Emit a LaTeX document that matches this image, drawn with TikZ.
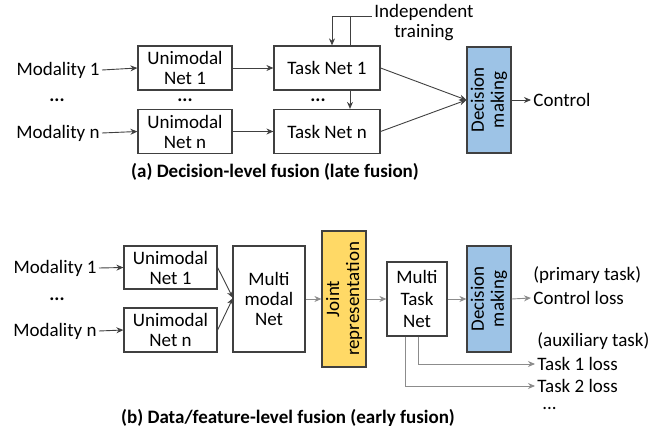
\documentclass[tikz,border=0pt]{standalone}
\usepackage{fontspec}
\setmainfont{Carlito}
\usetikzlibrary{arrows.meta}
\definecolor{boxc}{HTML}{404040}
\definecolor{arrc}{HTML}{404040}
\definecolor{garr}{HTML}{8C8C8C}
\definecolor{dmblue}{HTML}{9DC3E6}
\definecolor{jryel}{HTML}{FFD966}
\newcommand\myfs{\fontsize{9.5}{10}\selectfont}
\begin{document}
\begin{tikzpicture}[x=0.5pt,y=-0.5pt,
  box/.style={draw=boxc,line width=0.6pt,fill=white,align=center,inner sep=0pt,font=\myfs},
  lbl/.style={inner sep=1pt,font=\myfs,align=left},
  dotsn/.style={inner sep=0pt,font=\myfs\bfseries,anchor=base},
  arr/.style={draw=arrc,line width=0.45pt,-{Stealth[length=3.5pt,width=3pt]}},
  garrow/.style={draw=garr,line width=0.45pt,-{Stealth[length=3.5pt,width=3pt]}},
  captxt/.style={inner sep=0pt,font=\fontsize{9.5}{10}\selectfont\bfseries}]
\useasboundingbox (0,0) rectangle (670,433);
% ---------- (a) ----------
\node[lbl,anchor=east] (am1) at (102,70) {Modality 1};
\node[lbl,anchor=east] (amn) at (102,133) {Modality n};
\node[dotsn] (ad1) at (57,102) {...};
\node[box,minimum width=47pt,minimum height=22pt] (au1) at (185,68) {Unimodal\\Net 1};
\node[box,minimum width=47pt,minimum height=22pt] (aun) at (185,131.5) {Unimodal\\Net n};
\node[dotsn] (ad2) at (185,102) {...};
\node[box,minimum width=53pt,minimum height=22pt] (at1) at (327,68) {Task Net 1};
\node[box,minimum width=53pt,minimum height=22pt] (atn) at (327,131.5) {Task Net n};
\node[dotsn] (ad3) at (318,102) {...};
\node[lbl,align=center] (ait) at (424,23) {Independent\\training};
\node[box,fill=dmblue,rotate=90,minimum width=53pt,minimum height=22pt] (adm) at (489,100) {Decision\\making};
\node[lbl,anchor=west] (actl) at (531,100) {Control};
\coordinate (itc) at (332,16);
\coordinate (itb) at (350,16);
\draw[arr] (am1.east) -- (au1.west);
\draw[arr] (amn.east) -- (aun.west);
\draw[arr] (au1.east) -- (at1.west);
\draw[arr] (aun.east) -- (atn.west);
\draw[arr] (ait.west |- itc) -- (itc) -- (itc |- at1.north);
\draw[draw=arrc,line width=0.45pt] (itb) -- (itb |- at1.north);
\draw[arr] (itb |- at1.south) -- (itb |- atn.north);
\draw[arr] (at1.east) -- (adm.north);
\draw[arr] (atn.east) -- (adm.north);
\draw[arr] (adm.south) -- (actl.west);
\node[captxt] (capa) at (275,172) {(a) Decision-level fusion (late fusion)};
% ---------- (b) ----------
\node[lbl,anchor=east] (bm1) at (99,268) {Modality 1};
\node[lbl,anchor=east] (bmn) at (99,331) {Modality n};
\node[dotsn] (bd1) at (57,300) {...};
\node[box,minimum width=46.5pt,minimum height=21.5pt] (bu1) at (170.5,267.5) {Unimodal\\Net 1};
\node[box,minimum width=46.5pt,minimum height=22pt] (bun) at (170.5,330) {Unimodal\\Net n};
\node[box,minimum width=36pt,minimum height=53pt] (bmm) at (269,299) {Multi\\modal\\Net};
\node[box,fill=jryel,rotate=90,minimum width=68pt,minimum height=22pt] (bjr) at (344,299) {Joint\\representation};
\node[box,minimum width=30pt,minimum height=37pt,font=\fontsize{9.5}{11}\selectfont] (bmt) at (417,299) {Multi\\Task\\Net};
\node[box,fill=dmblue,rotate=90,minimum width=53pt,minimum height=22pt] (bdm) at (489,299) {Decision\\making};
\node[lbl,anchor=west] (bpt) at (531,275) {(primary task)};
\node[lbl,anchor=west] (bcl) at (531,298) {Control loss};
\node[lbl,anchor=west] (bat) at (535,341) {(auxiliary task)};
\node[lbl,anchor=west] (bt1) at (535,364) {Task 1 loss};
\node[lbl,anchor=west] (bt2) at (535,386) {Task 2 loss};
\node[lbl,anchor=base west] (bd2) at (540,409) {...};
\coordinate (bmmin) at (233,298);
\draw[arr] (bm1.east) -- (bu1.west);
\draw[arr] (bmn.east) -- (bun.west);
\draw[arr] (bu1.east) -- (bmmin);
\draw[arr] (bun.east) -- (bmmin);
\draw[garrow] (bmm.east) -- (bjr.north);
\draw[garrow] (bjr.south) -- (bmt.west);
\draw[garrow] (bmt.east) -- (bdm.north);
\draw[garrow] (bdm.south) -- (bcl.west);
\coordinate (bx1) at (418,0);
\coordinate (bx2) at (405,0);
\draw[garrow] (bx1 |- bmt.south) -- (bx1 |- bt1.west) -- (bt1.west);
\draw[garrow] (bx2 |- bmt.south) -- (bx2 |- bt2.west) -- (bt2.west);
\node[captxt] (capb) at (288,418) {(b) Data/feature-level fusion (early fusion)};
\end{tikzpicture}
\end{document}
